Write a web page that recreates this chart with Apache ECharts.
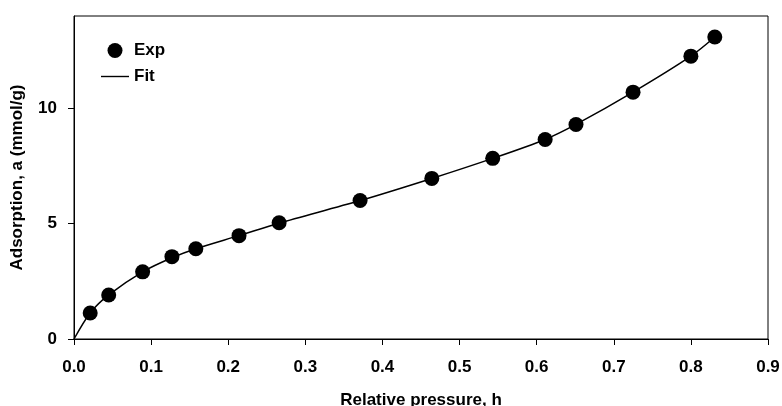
<!DOCTYPE html>
<html>
<head>
<meta charset="utf-8">
<script src="https://cdn.jsdelivr.net/npm/echarts@6/dist/echarts.min.js"></script>
<style>
  html, body { margin: 0; padding: 0; background: #fff; }
  #chart { width: 782px; height: 406px; }
</style>
</head>
<body>
<div id="chart"></div>
<script>
// experimental points (relative pressure h, adsorption a)
var expH = [0.021, 0.045, 0.089, 0.127, 0.158, 0.214, 0.266, 0.371, 0.464, 0.543, 0.611, 0.651, 0.725, 0.800, 0.831];
var expA = [1.13, 1.91, 2.91, 3.57, 3.91, 4.48, 5.04, 6.00, 6.96, 7.83, 8.65, 9.30, 10.70, 12.26, 13.09];

// fit curve
var fitH = [0, 0.021, 0.045, 0.089, 0.127, 0.158, 0.214, 0.266, 0.371, 0.464, 0.543, 0.611, 0.651, 0.725, 0.800, 0.831];
var fitA = [0, 1.13, 1.91, 2.91, 3.52, 3.91, 4.48, 5.02, 6.00, 6.96, 7.83, 8.65, 9.30, 10.70, 12.26, 13.09];

var yTicks = [0, 5, 10];

var font = 'Liberation Sans, Arial, sans-serif';
var txt = { fontFamily: font, fontWeight: 'bold', fontSize: 17, color: '#000' };

var chart = echarts.init(document.getElementById('chart'));

var option = {
    backgroundColor: '#fff',
    animation: false,
    grid: {
        left: 74,
        right: 14,
        top: 16,
        bottom: 67,
        outerBoundsMode: 'none',
        show: true,
        borderColor: '#000',
        borderWidth: 1
    },
    legend: {
        orient: 'vertical',
        left: 96,
        top: 37,
        itemWidth: 28,
        itemHeight: 15,
        itemGap: 9,
        textStyle: txt,
        data: [
            { name: 'Exp', icon: 'circle' },
            { name: 'Fit', icon: 'path://M0,0H40V2H0Z' }
        ]
    },
    xAxis: {
        type: 'value',
        min: 0,
        max: 0.9,
        interval: 0.1,
        name: 'Relative pressure, h',
        nameLocation: 'middle',
        nameGap: 53,
        nameTextStyle: txt,
        splitLine: { show: false },
        axisLine: { lineStyle: { color: '#000', width: 1 } },
        axisTick: { show: true, length: 6, lineStyle: { color: '#000' } },
        axisLabel: Object.assign({ margin: 20, formatter: function (v) { return v.toFixed(1); } }, txt)
    },
    yAxis: {
        type: 'value',
        min: 0,
        max: 14,
        name: 'Adsorption, a (mmol/g)',
        nameLocation: 'middle',
        nameGap: 48,
        nameTextStyle: txt,
        splitLine: { show: false },
        axisLine: { show: true, lineStyle: { color: '#000', width: 1 } },
        axisTick: { show: true, length: 6, customValues: yTicks, lineStyle: { color: '#000' } },
        axisLabel: Object.assign({ margin: 17, customValues: yTicks }, txt)
    },
    series: [
        {
            name: 'Fit',
            type: 'line',
            smooth: 0.3,
            symbol: 'none',
            lineStyle: { color: '#000', width: 1.5 },
            itemStyle: { color: '#000' },
            data: fitH.map(function (h, i) { return [h, fitA[i]]; }),
            z: 2
        },
        {
            name: 'Exp',
            type: 'scatter',
            symbol: 'circle',
            symbolSize: 15,
            itemStyle: { color: '#000', opacity: 1 },
            data: expH.map(function (h, i) { return [h, expA[i]]; }),
            z: 3
        }
    ]
};

option && chart.setOption(option);
</script>
</body>
</html>
